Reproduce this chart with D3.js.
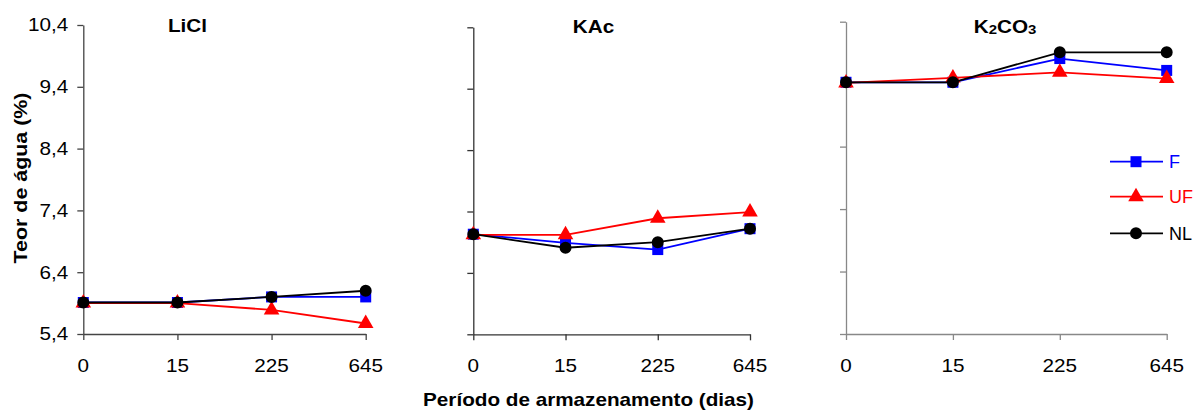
<!DOCTYPE html>
<html><head><meta charset="utf-8">
<script src="https://cdn.jsdelivr.net/npm/d3@7"></script>
<style>html,body{margin:0;padding:0;background:#fff;}svg{display:block;font-family:"Liberation Sans",Arial,sans-serif;}</style>
</head><body>
<svg id="c" width="1195" height="412"></svg>
<script>
// ---- data ----
const days = ["0", "15", "225", "645"];
const yTicks = [5.4, 6.4, 7.4, 8.4, 9.4, 10.4];
const panelNames = ["LiCl", "KAc", "K2CO3"];
const seriesNames = ["F", "UF", "NL"];
const liclF  = [5.91, 5.91, 6.00, 6.00];
const liclUF = [5.90, 5.90, 5.79, 5.57];
const liclNL = [5.91, 5.91, 6.00, 6.10];
const kacF   = [7.03, 6.89, 6.78, 7.12];
const kacUF  = [7.02, 7.02, 7.29, 7.39];
const kacNL  = [7.03, 6.81, 6.90, 7.12];
const k2co3F  = [9.43, 9.43, 9.81, 9.62];
const k2co3UF = [9.42, 9.50, 9.59, 9.49];
const k2co3NL = [9.43, 9.43, 9.91, 9.91];

const panelData = [
  [liclF, liclUF, liclNL],
  [kacF, kacUF, kacNL],
  [k2co3F, k2co3UF, k2co3NL]
];

// ---- layout / style ----
const colors = {F: "#0000ff", UF: "#ff0000", NL: "#000000"};
const symbols = {F: d3.symbolSquare, UF: d3.symbolTriangle, NL: d3.symbolCircle};
const symSize = {F: 121, UF: 105, NL: 113};
const layout = [
  {x0: 83.3, x1: 365.7, top: 25, bottom: 334, axisColor: "#444", titleX: 187.5, titleY: 32},
  {x0: 473.3, x1: 750, top: 27.3, bottom: 334.3, axisColor: "#333", titleX: 593.5, titleY: 33},
  {x0: 846, x1: 1166.7, top: 21.7, bottom: 334, axisColor: "#888", titleX: 1005, titleY: 33}
];
const SX = 1.15; // horizontal stretch of the glyphs
const fmt = v => d3.format(".1f")(v).replace(".", ",");

const svg = d3.select("#c");

function stretchedText(g, x, y, txt, opts) {
  const sx = opts.sx || SX;
  const t = g.append("text")
    .attr("transform", `translate(${x},${y}) scale(${sx},1)`)
    .attr("font-size", opts.size || 18)
    .attr("font-weight", opts.bold ? "bold" : "normal")
    .attr("fill", opts.fill || "#000")
    .attr("text-anchor", opts.anchor || "middle");
  if (opts.dy) t.attr("dy", opts.dy);
  t.text(txt);
  return t;
}

panelNames.forEach((name, pi) => {
  const L = layout[pi];
  const x = d3.scalePoint().domain(days).range([L.x0, L.x1]).padding(0);
  const y = d3.scaleLinear().domain([5.4, 10.4]).range([L.bottom, L.top]);
  const g = svg.append("g");

  const ya = g.append("g").attr("transform", `translate(${L.x0},0)`)
    .call(d3.axisLeft(y).tickValues(yTicks).tickSizeInner(6).tickSizeOuter(0).tickFormat(""));
  const xa = g.append("g").attr("transform", `translate(0,${L.bottom})`)
    .call(d3.axisBottom(x).tickSizeInner(6).tickSizeOuter(0).tickFormat(""));
  [ya, xa].forEach(a => {
    a.selectAll("path,line").attr("stroke", L.axisColor).attr("stroke-width", 1.3);
  });

  // x tick labels
  days.forEach(d => stretchedText(g, x(d), L.bottom + 38, d, {size: 18}));
  // y tick labels only on first panel
  if (pi === 0) {
    yTicks.forEach(v => stretchedText(g, L.x0 - 15, y(v), fmt(v), {size: 18, anchor: "end", dy: "0.36em"}));
  }

  // title
  if (name === "K2CO3") {
    const t = g.append("text")
      .attr("transform", `translate(${L.titleX},${L.titleY}) scale(${SX},1)`)
      .attr("font-size", 18).attr("font-weight", "bold").attr("text-anchor", "middle");
    t.append("tspan").text("K");
    t.append("tspan").attr("font-size", 13).attr("dy", 1).text("2");
    t.append("tspan").attr("dy", -1).text("CO");
    t.append("tspan").attr("font-size", 13).attr("dy", 1).text("3");
  } else {
    stretchedText(g, L.titleX, L.titleY, name, {size: 18, bold: true});
  }

  // series
  seriesNames.forEach((s, si) => {
    const vals = panelData[pi][si];
    const pts = days.map((d, i) => [x(d), y(vals[i])]);
    g.append("path").attr("d", d3.line()(pts))
      .attr("fill", "none").attr("stroke", colors[s]).attr("stroke-width", 1.8);
    g.selectAll(null).data(pts).join("path")
      .attr("transform", p => `translate(${p[0]},${p[1]})`)
      .attr("d", d3.symbol().type(symbols[s]).size(symSize[s]))
      .attr("fill", colors[s]);
  });
});

// legend
const legY = [161.7, 196.7, 233.3];
const legG = svg.append("g");
seriesNames.forEach((s, i) => {
  legG.append("line").attr("x1", 1110).attr("x2", 1163).attr("y1", legY[i]).attr("y2", legY[i])
    .attr("stroke", colors[s]).attr("stroke-width", 1.8);
  legG.append("path").attr("transform", `translate(1136,${legY[i]})`)
    .attr("d", d3.symbol().type(symbols[s]).size(symSize[s])).attr("fill", colors[s]);
  stretchedText(legG, 1169, legY[i], s, {size: 18, sx: 1, anchor: "start", dy: "0.36em", fill: colors[s]});
});

// axis titles
svg.append("text")
  .attr("transform", `translate(27,178) rotate(-90) scale(1.19,1)`)
  .attr("font-size", 18).attr("font-weight", "bold").attr("text-anchor", "middle")
  .text("Teor de água (%)");
stretchedText(svg, 588.5, 406, "Período de armazenamento (dias)", {size: 18, bold: true});
</script>
</body></html>
